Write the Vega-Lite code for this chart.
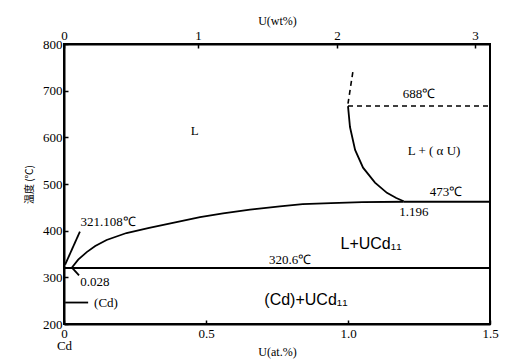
{
  "$schema": "https://vega.github.io/schema/vega-lite/v6.json",
  "width": 426,
  "height": 280,
  "autosize": {"type": "none"},
  "padding": {"left": 64, "top": 44, "right": 15, "bottom": 36},
  "background": "white",
  "config": {
    "view": {"stroke": "black", "strokeWidth": 2},
    "axis": {
      "grid": false,
      "domainColor": "black",
      "domainWidth": 2,
      "tickColor": "black",
      "tickWidth": 1.5,
      "labelColor": "black",
      "labelFont": "Liberation Serif",
      "labelFontSize": 13,
      "titleFont": "Liberation Serif",
      "titleFontWeight": "normal",
      "titleColor": "black"
    }
  },
  "datasets": {
    "solid": [
      {"series": "eut", "o": 0, "x": 0, "t": 320},
      {"series": "eut", "o": 1, "x": 1.5, "t": 320},
      {"series": "liq", "o": 0, "x": 0.028, "t": 321},
      {"series": "liq", "o": 1, "x": 0.05, "t": 338},
      {"series": "liq", "o": 2, "x": 0.08, "t": 354},
      {"series": "liq", "o": 3, "x": 0.11, "t": 367},
      {"series": "liq", "o": 4, "x": 0.15, "t": 380},
      {"series": "liq", "o": 5, "x": 0.22, "t": 395},
      {"series": "liq", "o": 6, "x": 0.3, "t": 406},
      {"series": "liq", "o": 7, "x": 0.4, "t": 419},
      {"series": "liq", "o": 8, "x": 0.479, "t": 429},
      {"series": "liq", "o": 9, "x": 0.56, "t": 437},
      {"series": "liq", "o": 10, "x": 0.655, "t": 445},
      {"series": "liq", "o": 11, "x": 0.76, "t": 452},
      {"series": "liq", "o": 12, "x": 0.84, "t": 457},
      {"series": "liq", "o": 13, "x": 0.94, "t": 459},
      {"series": "liq", "o": 14, "x": 1.05, "t": 461},
      {"series": "liq", "o": 15, "x": 1.196, "t": 462},
      {"series": "au", "o": 0, "x": 1.0, "t": 667},
      {"series": "au", "o": 1, "x": 1.007, "t": 622},
      {"series": "au", "o": 2, "x": 1.025, "t": 573},
      {"series": "au", "o": 3, "x": 1.053, "t": 535},
      {"series": "au", "o": 4, "x": 1.095, "t": 503},
      {"series": "au", "o": 5, "x": 1.137, "t": 481},
      {"series": "au", "o": 6, "x": 1.17, "t": 470},
      {"series": "au", "o": 7, "x": 1.196, "t": 463},
      {"series": "h473", "o": 0, "x": 1.196, "t": 462},
      {"series": "h473", "o": 1, "x": 1.5, "t": 462},
      {"series": "lead1", "o": 0, "x": 0.004, "t": 327},
      {"series": "lead1", "o": 1, "x": 0.056, "t": 398},
      {"series": "lead2", "o": 0, "x": 0.028, "t": 321},
      {"series": "lead2", "o": 1, "x": 0.053, "t": 304},
      {"series": "lead3", "o": 0, "x": 0.004, "t": 246},
      {"series": "lead3", "o": 1, "x": 0.085, "t": 246}
    ],
    "dashed": [
      {"series": "d688", "o": 0, "x": 1.0, "t": 667},
      {"series": "d688", "o": 1, "x": 1.5, "t": 667},
      {"series": "dext", "o": 0, "x": 1.0, "t": 672},
      {"series": "dext", "o": 1, "x": 1.018, "t": 744}
    ],
    "serifText": [
      {"x": 0.46, "t": 614, "label": "L"},
      {"x": 1.25, "t": 693, "label": "688℃"},
      {"x": 1.303, "t": 571, "label": "L + ( α U)"},
      {"x": 1.345, "t": 483, "label": "473℃"},
      {"x": 1.232, "t": 441, "label": "1.196"},
      {"x": 0.796, "t": 338, "label": "320.6℃"},
      {"x": 0.155, "t": 419, "label": "321.108℃"},
      {"x": 0.109, "t": 291, "label": "0.028"},
      {"x": 0.148, "t": 246, "label": "(Cd)"}
    ],
    "sansText": [
      {"x": 1.081, "t": 372, "label": "L+UCd₁₁"},
      {"x": 0.852, "t": 252, "label": "(Cd)+UCd₁₁"}
    ]
  },
  "layer": [
    {
      "data": {"name": "solid"},
      "mark": {"type": "line", "color": "black", "strokeWidth": 1.8},
      "encoding": {
        "x": {
          "field": "x", "type": "quantitative",
          "scale": {"domain": [0, 1.5], "nice": false, "zero": false},
          "axis": {
            "orient": "bottom",
            "title": "U(at.%)",
            "titleFontSize": 12,
            "titleY": 22,
            "titleBaseline": "top",
            "values": [0, 0.5, 1, 1.5],
            "tickSize": -4,
            "labelPadding": 7,
            "labelLineHeight": 12,
            "labelFlush": false,
            "labelExpr": "datum.value == 0 ? ['0', 'Cd'] : datum.label"
          }
        },
        "y": {
          "field": "t", "type": "quantitative",
          "scale": {"domain": [200, 800], "nice": false, "zero": false},
          "axis": {
            "title": "温度 (℃)",
            "titleFont": "Noto Sans CJK SC",
            "titleFontSize": 10,
            "titlePadding": 8,
            "values": [200, 300, 400, 500, 600, 700, 800],
            "tickSize": -4,
            "labelPadding": 6,
            "labelFlush": false
          }
        },
        "detail": {"field": "series"},
        "order": {"field": "o"}
      }
    },
    {
      "data": {"name": "dashed"},
      "mark": {"type": "line", "color": "black", "strokeWidth": 1.6, "strokeDash": [5, 4]},
      "encoding": {
        "x": {
          "field": "x", "type": "quantitative",
          "axis": {
            "orient": "top",
            "title": "U(wt%)",
            "titleFontSize": 12,
            "titlePadding": 2,
            "values": [0, 0.472, 0.961, 1.447],
            "tickSize": -4,
            "labelPadding": 6,
            "labelFlush": false,
            "labelExpr": "datum.value < 0.1 ? '0' : datum.value < 0.7 ? '1' : datum.value < 1.2 ? '2' : '3'"
          }
        },
        "y": {"field": "t", "type": "quantitative"},
        "detail": {"field": "series"},
        "order": {"field": "o"}
      }
    },
    {
      "data": {"name": "serifText"},
      "mark": {"type": "text", "font": "Liberation Serif", "fontSize": 13, "color": "black"},
      "encoding": {
        "x": {"field": "x", "type": "quantitative", "axis": null},
        "y": {"field": "t", "type": "quantitative"},
        "text": {"field": "label"}
      }
    },
    {
      "data": {"name": "sansText"},
      "mark": {"type": "text", "font": "Liberation Sans, DejaVu Sans", "fontSize": 16, "color": "black"},
      "encoding": {
        "x": {"field": "x", "type": "quantitative", "axis": null},
        "y": {"field": "t", "type": "quantitative"},
        "text": {"field": "label"}
      }
    }
  ],
  "resolve": {"axis": {"x": "independent"}}
}
